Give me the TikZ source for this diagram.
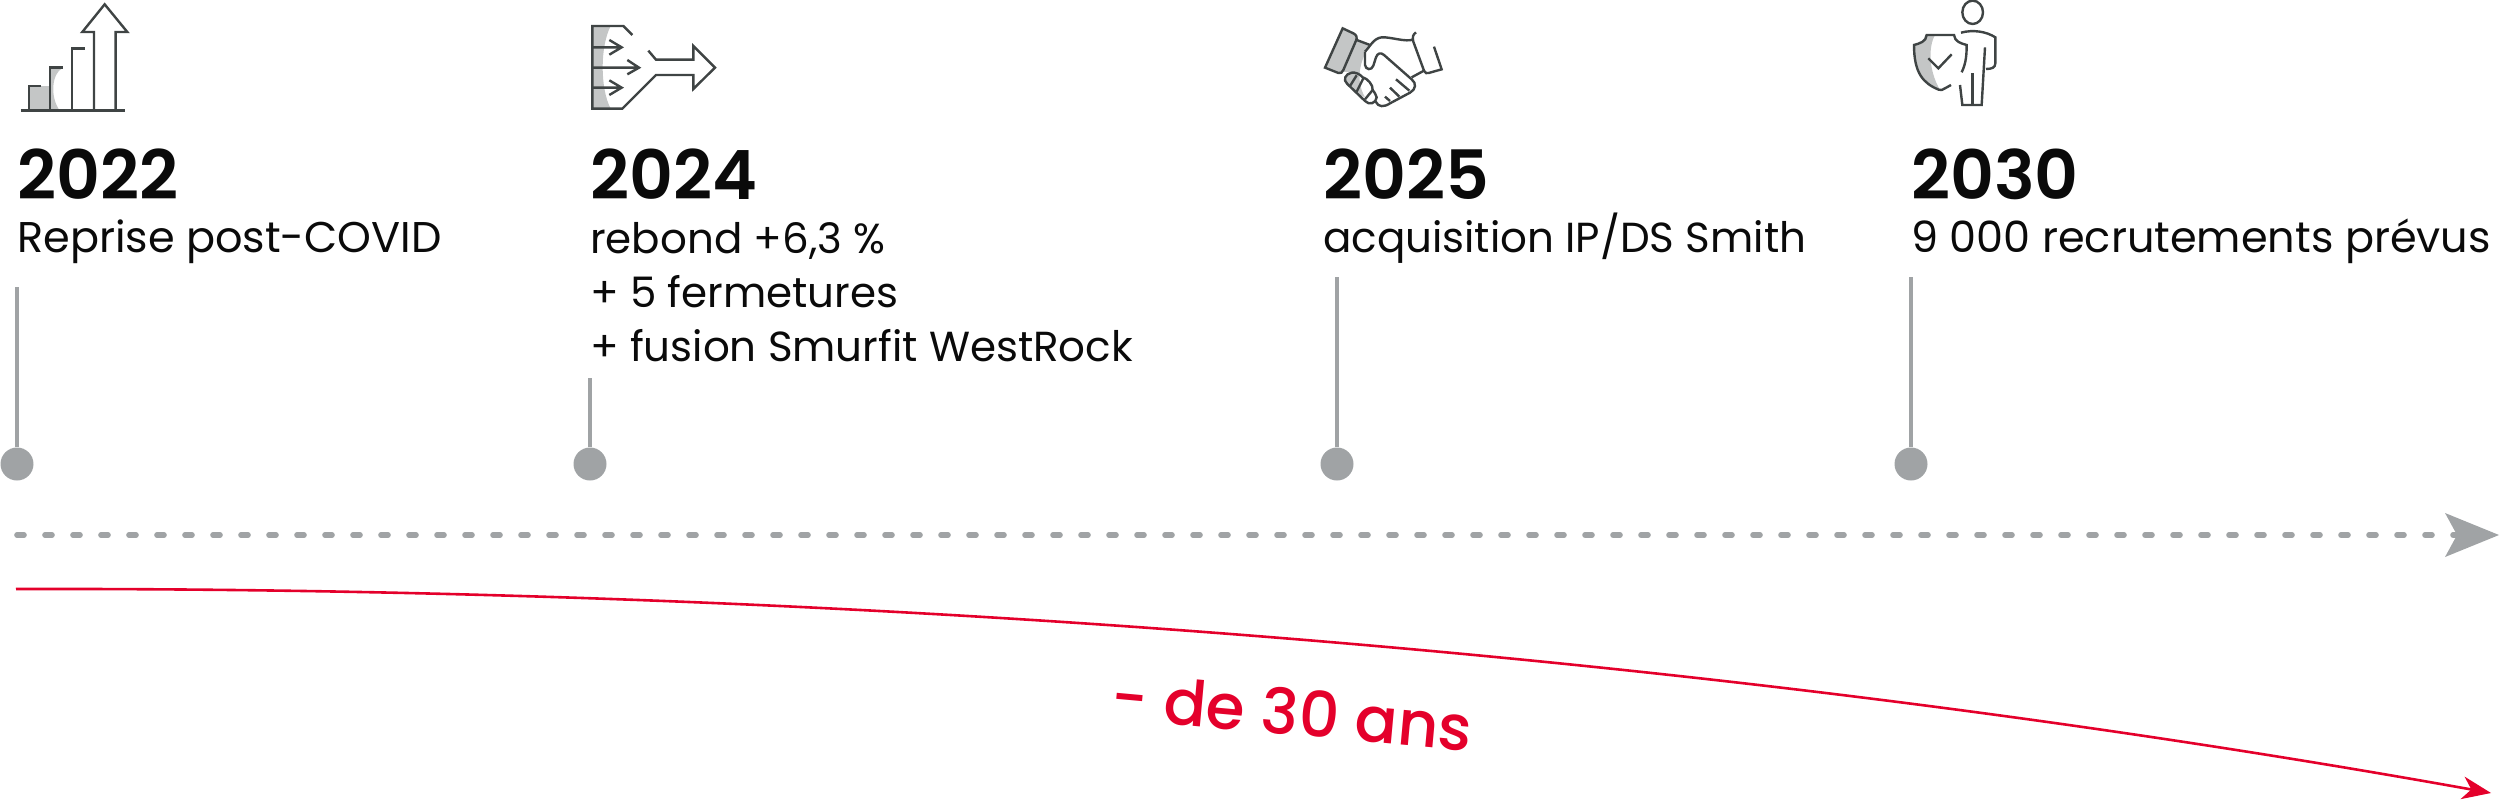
\documentclass[tikz,border=0pt]{standalone}
\usepackage{fontspec}
\usetikzlibrary{arrows.meta}
\setmainfont{Poppins}
\newfontfamily\yrfont{Poppins SemiBold}
\newfontfamily\medfont{Poppins Medium}
\definecolor{ink}{HTML}{0A0A0A}
\definecolor{iconink}{HTML}{3F4444}
\definecolor{iconfill}{HTML}{C4C6C6}
\definecolor{tlgray}{HTML}{A0A3A5}
\definecolor{tlred}{HTML}{E4002B}
\tikzset{
  year/.style={anchor=base west,inner sep=0pt,text=ink,font=\yrfont\fontsize{68}{68}\selectfont},
  body/.style={anchor=base west,inner sep=0pt,text=ink,font=\fontsize{42}{54}\selectfont,align=left},
  bodywide/.style={body,font=\fontsize{43}{54}\selectfont},
  stem/.style={draw=tlgray,line width=4.5pt},
  dot/.style={circle,fill=tlgray,minimum size=33pt,inner sep=0pt},
  icon/.style={x=0.3333pt,y=-0.3333pt,line width=2.4pt,draw=iconink,line join=miter,line cap=butt},
  iconshade/.style={fill=iconfill,draw=none},
}
\begin{document}
\begin{tikzpicture}[x=1pt,y=-1pt]
\useasboundingbox (0,0) rectangle (2500,800);

% icon 1
\begin{scope}[shift={(0,0)},icon]
\fill[iconshade] (87,258)--(150,258)--(150,330)--(87,330)--cycle;
\fill[iconshade] (150,204)--(188,204) .. controls (155,220) and (150,290) .. (178,330)--(150,330)--cycle;
\draw (62,331)--(375,331);
\draw (87,331)--(87,258)--(123,258);
\draw (150,331)--(150,202)--(189,202);
\draw (216,331)--(216,145)--(255,145);
\draw (282,331)--(282,96)--(247,96)--(314,13)--(382,96)--(347,96)--(347,331);
\end{scope}

% icon 2
\begin{scope}[shift={(570,0)},icon]
\fill[iconshade] (67,78)--(122,78) .. controls (90,140) and (90,265) .. (122,326)--(67,326)--cycle;
\draw (187,105)--(160,78)--(67,78)--(67,326)--(157,326)--(258,225)--(370,225)--(370,267)--(435,203)--(370,138)--(370,179)--(258,179)--(235,152);
\draw (67,142)--(155,142) (118,120)--(155,142)--(118,164);
\draw (67,203)--(207,203) (172,180)--(207,203)--(172,223);
\draw (67,263)--(155,263) (118,241)--(155,263)--(118,285);
\end{scope}

% icon 3
\begin{scope}[shift={(1310,0)},icon]
\fill[iconshade] (140,120)--(180,135) .. controls (150,180) and (135,240) .. (165,292)--(150,285)--(105,245)--(110,225)--(125,218)--(100,215)--cycle;
\filldraw[fill=iconfill] (98,85)--(130,100) .. controls (140,105) and (142,112) .. (138,122)--(100,210) .. controls (97,218) and (92,221) .. (85,219)--(45,203)--cycle;
\draw (140,120)--(180,135);
\draw (165,155) .. controls (180,140) and (190,115) .. (215,112) .. controls (240,110) and (290,128) .. (310,118);
\draw (318,97) .. controls (308,104) and (307,112) .. (310,125)--(342,212) .. controls (346,220) and (350,221) .. (356,219)--(395,208)--(372,140);
\draw (342,212)--(305,232);
\draw (165,155)--(165,195) .. controls (167,210) and (185,212) .. (190,197)--(198,172) .. controls (202,160) and (212,156) .. (222,165)--(305,238) .. controls (320,250) and (318,268) .. (300,278)--(240,310) .. controls (222,322) and (205,322) .. (197,305);
\draw (258,238)--(298,272) (240,263)--(268,290) (225,290)--(240,303);
\draw (125,218) .. controls (105,222) and (98,240) .. (112,252)--(165,303) .. controls (178,317) and (198,310) .. (200,292) .. controls (199,282) and (192,278) .. (188,270) .. controls (190,255) and (172,235) .. (158,232) .. controls (150,222) and (135,216) .. (125,218);
\draw (140,226)--(120,258) (160,235)--(140,275) (188,270)--(165,298);
\end{scope}

% icon 4
\begin{scope}[shift={(1890,0)},icon]
\fill[iconshade] (110,105)--(135,105) .. controls (115,140) and (115,210) .. (150,270) .. controls (100,255) and (72,220) .. (72,135) .. controls (90,130) and (108,125) .. (110,105)--cycle;
\draw (248,37) ellipse [x radius=31,y radius=35];
\draw (183,255)--(165,265) .. controls (158,270) and (152,272) .. (146,269) .. controls (100,250) and (72,220) .. (72,135) .. controls (90,130) and (108,125) .. (110,105)--(192,105) .. controls (194,125) and (212,130) .. (230,135) .. controls (230,165) and (228,190) .. (215,217);
\draw (115,175)--(145,205)--(185,163);
\draw (213,98) .. controls (250,88) and (290,95) .. (316,112)--(316,190) .. controls (316,203) and (305,207) .. (288,207);
\draw (285,142)--(275,315)--(217,315)--(210,255);
\draw (247,220)--(247,315);
\end{scope}

% year labels
\node[year] (y22) at (17,199) {2022};
\node[year] (y24) at (590,199) {2024};
\node[year] (y25) at (1323,199) {2025};
\node[year] (y30) at (1911,199) {2030};
\node[bodywide] (t22) at (17,252) {Reprise post-COVID};
\node[body,anchor=north west] (t24) at (590,222) {rebond +6,3 \%\\+ 5 fermetures\\+ fusion Smurfit WestRock};
\node[body] (t25) at (1323,252) {acquisition IP/DS Smith};
\node[bodywide] (t30) at (1911,252) {9 000 recrutements prévus};

% stems and dots
\node[dot] (d22) at (17,464) {};
\node[dot] (d24) at (590,464) {};
\node[dot] (d25) at (1337,464) {};
\node[dot] (d30) at (1911,464) {};
\coordinate (s22) at (17,287);
\coordinate (s24) at (590,378);
\coordinate (s25) at (1337,277);
\coordinate (s30) at (1911,277);
\draw[stem] (s22)--(d22);
\draw[stem] (s24)--(d24);
\draw[stem] (s25)--(d25);
\draw[stem] (s30)--(d30);

% dotted axis
\coordinate (axA) at (17,535);
\coordinate (axB) at (2499,535);
\draw[tlgray,line width=5.6pt,line cap=round,dash pattern=on 7pt off 21pt,-{Stealth[length=54pt,width=44pt,inset=12pt,line width=0pt]}] (axA)--(axB);

% red curve
\coordinate (rA) at (16,589);
\coordinate (rB) at (2491,793);
\draw[tlred,line width=2.6pt,-{Stealth[length=29pt,width=23pt,inset=9pt,line width=0pt]}] (rA) .. controls (900,587) and (1750,660) .. (rB);
\node[anchor=center,inner sep=0pt,text=tlred,font=\medfont\fontsize{63}{63}\selectfont,rotate=-5.2] (ans) at (1292,712) {- de 30 ans};
\end{tikzpicture}
\end{document}
